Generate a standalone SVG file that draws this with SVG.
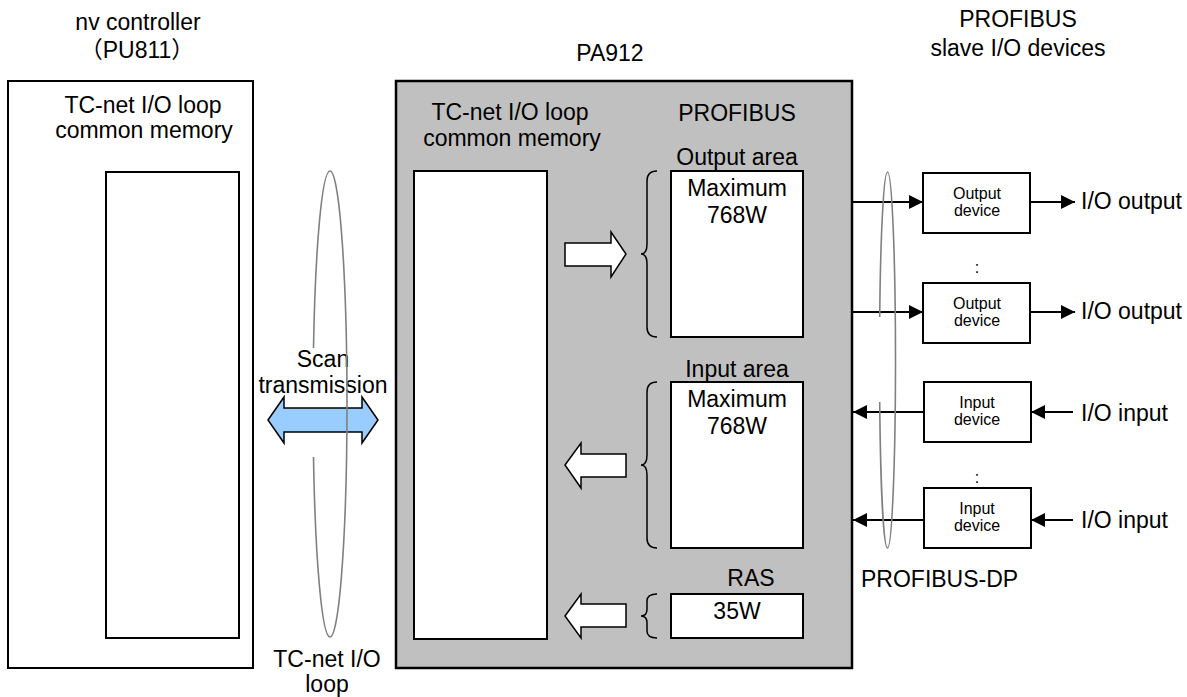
<svg xmlns="http://www.w3.org/2000/svg" width="1187" height="697" viewBox="0 0 1187 697">
<defs>
<style>
text{font-family:"Liberation Sans","Noto Sans CJK JP",Arial,sans-serif;fill:#000}
.t{font-size:23px;text-anchor:middle}
.tl{font-size:23px}
.s{font-size:16px;text-anchor:middle}
.box{fill:#fff;stroke:#000;stroke-width:2}
.gray{fill:#c0c0c0;stroke:#000;stroke-width:2.5}
.loop{fill:none;stroke:#808080;stroke-width:1.6}
.brace{fill:none;stroke:#000;stroke-width:1.5}
.warrow{fill:#fff;stroke:#000;stroke-width:1.5;stroke-linejoin:miter}
.line{stroke:#000;stroke-width:2;fill:none}
</style>
<marker id="ah" viewBox="0 0 14 14" refX="14" refY="7" markerWidth="14" markerHeight="14" markerUnits="userSpaceOnUse" orient="auto">
<path d="M0,0 L14,7 L0,14 Z" fill="#000"/>
</marker>
</defs>

<g id="nv-controller">
<text class="t" x="138" y="30">nv controller</text>
<text class="t" x="137" y="58">（PU811）</text>
<rect class="box" x="8" y="81" width="245" height="587"/>
<text class="t" x="143" y="113">TC-net I/O loop</text>
<text class="t" x="144" y="138">common memory</text>
<rect class="box" x="106" y="172" width="133" height="466"/>
</g>

<g id="pa912">
<text class="t" x="610" y="61">PA912</text>
<rect class="gray" x="396" y="81" width="456" height="587"/>
<text class="t" x="510" y="120">TC-net I/O loop</text>
<text class="t" x="512" y="146">common memory</text>
<rect class="box" x="414" y="171" width="133" height="468"/>
<text class="t" x="737" y="121">PROFIBUS</text>
<text class="t" x="737" y="165">Output area</text>
<rect class="box" x="671" y="171" width="132" height="166"/>
<text class="t" x="737" y="196">Maximum</text>
<text class="t" x="737" y="223">768W</text>
<text class="t" x="737" y="377">Input area</text>
<rect class="box" x="671" y="382" width="132" height="166"/>
<text class="t" x="737" y="407">Maximum</text>
<text class="t" x="737" y="434">768W</text>
<text class="t" x="751" y="586">RAS</text>
<rect class="box" x="671" y="594" width="132" height="44"/>
<text class="t" x="737" y="619">35W</text>
<path class="brace" d="M657,171 Q647,171 647,181 L647,244 Q647,254 641,254 Q647,254 647,264 L647,327 Q647,337 657,337"/>
<path class="brace" d="M657,382 Q647,382 647,392 L647,455 Q647,465 641,465 Q647,465 647,475 L647,538 Q647,548 657,548"/>
<path class="brace" d="M657,594 Q647,594 647,601 L647,609 Q647,616 641,616 Q647,616 647,623 L647,631 Q647,638 657,638"/>
<path class="warrow" d="M565,243 L611,243 L611,232 L626,254 L611,277 L611,266 L565,266 Z"/>
<path class="warrow" d="M565,465 L581,443 L581,454 L626,454 L626,477 L581,477 L581,488 Z"/>
<path class="warrow" d="M565,616 L581,594 L581,604 L626,604 L626,627 L581,627 L581,638 Z"/>
</g>

<g id="tcnet-loop">
<path class="loop" d="M330,171 A17,233 0 0 0 313.5,348 M313.5,457 A17,233 0 0 0 330,637"/>
<text class="t" x="323" y="367">Scan</text>
<text class="t" x="323" y="393">transmission</text>
<path d="M268,420 L284,397 L284,408 L362,408 L362,397 L378,420 L362,443 L362,432 L284,432 L284,443 Z" fill="#99ccff" stroke="#000" stroke-width="1.5"/>
<path class="loop" d="M330,171 A17,233 0 0 1 330,637"/>
<text class="t" x="327" y="667">TC-net I/O</text>
<text class="t" x="327" y="692">loop</text>
</g>

<g id="slave-devices-title">
<text class="t" x="1018" y="27">PROFIBUS</text>
<text class="t" x="1018" y="56">slave I/O devices</text>
</g>

<g id="output-device-1">
<rect class="box" x="923" y="173" width="107" height="60"/>
<text class="s" x="977" y="199">Output</text>
<text class="s" x="977" y="216">device</text>
</g>
<text class="s" x="977" y="273">:</text>
<g id="output-device-2">
<rect class="box" x="923" y="283" width="107" height="60"/>
<text class="s" x="977" y="309">Output</text>
<text class="s" x="977" y="326">device</text>
</g>
<g id="input-device-1">
<rect class="box" x="924" y="382" width="107" height="60"/>
<text class="s" x="977" y="408">Input</text>
<text class="s" x="977" y="425">device</text>
</g>
<text class="s" x="977" y="483">:</text>
<g id="input-device-2">
<rect class="box" x="924" y="488" width="107" height="60"/>
<text class="s" x="977" y="514">Input</text>
<text class="s" x="977" y="531">device</text>
</g>

<g id="io-labels">
<text class="tl" x="1081" y="209">I/O output</text>
<text class="tl" x="1081" y="319">I/O output</text>
<text class="tl" x="1081" y="421">I/O input</text>
<text class="tl" x="1081" y="528">I/O input</text>
</g>

<g id="connectors">
<line class="line" x1="852" y1="202" x2="923" y2="202" marker-end="url(#ah)"/>
<line class="line" x1="1030" y1="202" x2="1075" y2="202" marker-end="url(#ah)"/>
<line class="line" x1="852" y1="312" x2="923" y2="312" marker-end="url(#ah)"/>
<line class="line" x1="1030" y1="312" x2="1075" y2="312" marker-end="url(#ah)"/>
<line class="line" x1="924" y1="412" x2="853" y2="412" marker-end="url(#ah)"/>
<line class="line" x1="1073" y1="412" x2="1031" y2="412" marker-end="url(#ah)"/>
<line class="line" x1="924" y1="520" x2="853" y2="520" marker-end="url(#ah)"/>
<line class="line" x1="1073" y1="520" x2="1031" y2="520" marker-end="url(#ah)"/>
</g>

<g id="profibus-dp">
<path class="loop" d="M887.5,172 A8,188 0 0 1 887.5,548 M887.5,172 A8,188 0 0 0 879.7,317 M879.7,402 A8,188 0 0 0 887.5,548"/>
<text class="tl" x="861" y="587">PROFIBUS-DP</text>
</g>
</svg>
